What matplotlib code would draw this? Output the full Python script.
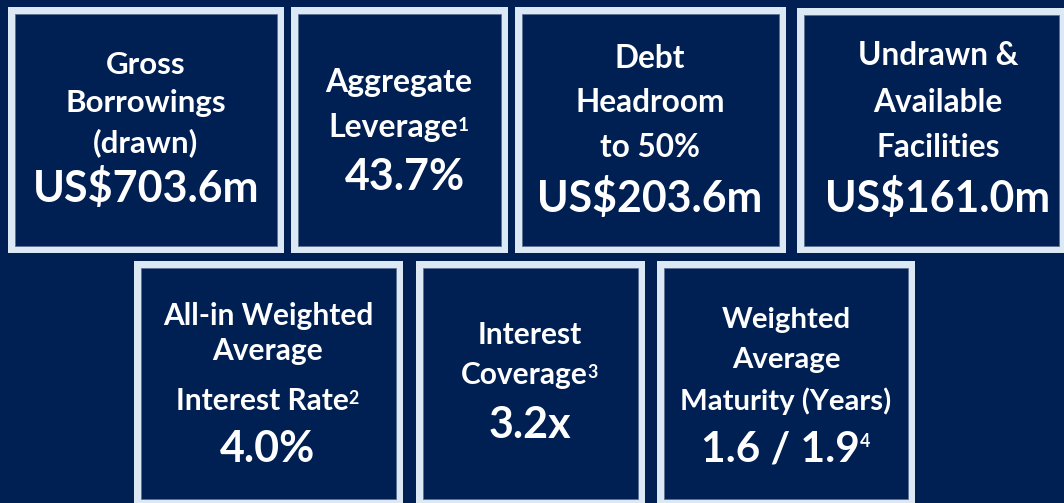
import matplotlib
matplotlib.use("Agg")
import matplotlib.pyplot as plt
from matplotlib.patches import Rectangle

# ---- data ----
titles = [
    ["Gross", "Borrowings", "(drawn)"],
    ["Aggregate", "Leverage"],
    ["Debt", "Headroom", "to 50%"],
    ["Undrawn &", "Available", "Facilities"],
    ["All-in Weighted", "Average", "Interest Rate"],
    ["Interest", "Coverage"],
    ["Weighted", "Average", "Maturity (Years)"],
]
title_notes = ["", "1", "", "", "2", "3", ""]
values = ["US$703.6m", "43.7%", "US$203.6m", "US$161.0m", "4.0%", "3.2x", "1.6 / 1.9"]
value_notes = ["", "", "", "", "", "", "4"]

# ---- layout (pixels) ----
W, H = 1064, 503
boxes = [  # x0, y0, x1, y1 (outer)
    (8, 7, 284, 253),
    (291, 7, 508, 253),
    (515, 7, 786, 253),
    (797, 8, 1066, 253),
    (134, 261, 403, 506),
    (416, 261, 645, 506),
    (657, 261, 915, 506),
]
centers = [146, 399, 650, 938, 268, 530, 786]
value_dx = [0, 6, 0, 0, 0, 0, 0]
title_baselines = [
    [74, 112, 152],
    [92, 137],
    [68, 112, 157],
    [65, 112, 157],
    [325, 360, 410],
    [344, 384],
    [328, 368, 410],
]
value_baselines = [202, 190, 212, 212, 462, 438, 461]
title_sizes = [22.5, 23, 22.8, 22.8, 21.5, 21.5, 21.2]
value_sizes = [31, 31, 30.8, 30.8, 31, 31, 30.5]

BG = "#001f52"
BORDER = "#dce8f4"
BW = 7
FONT = "Lato"

fig = plt.figure(figsize=(W / 100, H / 100), dpi=100)
fig.patch.set_facecolor(BG)
ax = fig.add_axes([0, 0, 1, 1])
ax.set_xlim(0, W)
ax.set_ylim(H, 0)
ax.axis("off")
ax.set_facecolor(BG)

for (x0, y0, x1, y1) in boxes:
    ax.add_patch(Rectangle((x0, y0), x1 - x0, y1 - y0, facecolor=BORDER, edgecolor="none"))
    ax.add_patch(Rectangle((x0 + BW, y0 + BW), x1 - x0 - 2 * BW, y1 - y0 - 2 * BW,
                           facecolor=BG, edgecolor="#5a6f92", linewidth=0.6))

sup_items = []  # (text, note, sup size, raise px)
for i in range(len(titles)):
    cx = centers[i]
    last = None
    for line, yb in zip(titles[i], title_baselines[i]):
        last = ax.text(cx, yb, line, ha="center", va="baseline", color="white",
                       fontsize=title_sizes[i], fontweight="bold", family=FONT)
    if title_notes[i]:
        sup_items.append((last, title_notes[i], title_sizes[i] * 0.6, 6))
    vt = ax.text(cx + value_dx[i], value_baselines[i], values[i], ha="center", va="baseline",
                 color="white", fontsize=value_sizes[i], fontweight="bold", family=FONT)
    if value_notes[i]:
        sup_items.append((vt, value_notes[i], value_sizes[i] * 0.42, 14))

fig.canvas.draw()
renderer = fig.canvas.get_renderer()
inv = ax.transData.inverted()
for t, note, ssize, rise in sup_items:
    xb, yb = t.get_position()
    st = ax.text(0, yb - rise, note, ha="left", va="baseline", color="white",
                 fontsize=ssize, fontweight="bold", family=FONT)
    sw = st.get_window_extent(renderer).width  # pixels == data units
    t.set_position((xb - sw / 2, yb))
    bb = t.get_window_extent(renderer)
    x_right = inv.transform((bb.x1, bb.y0))[0]
    st.set_position((x_right - 0.5, yb - rise))

fig.savefig("out.png", dpi=100, facecolor=BG)
